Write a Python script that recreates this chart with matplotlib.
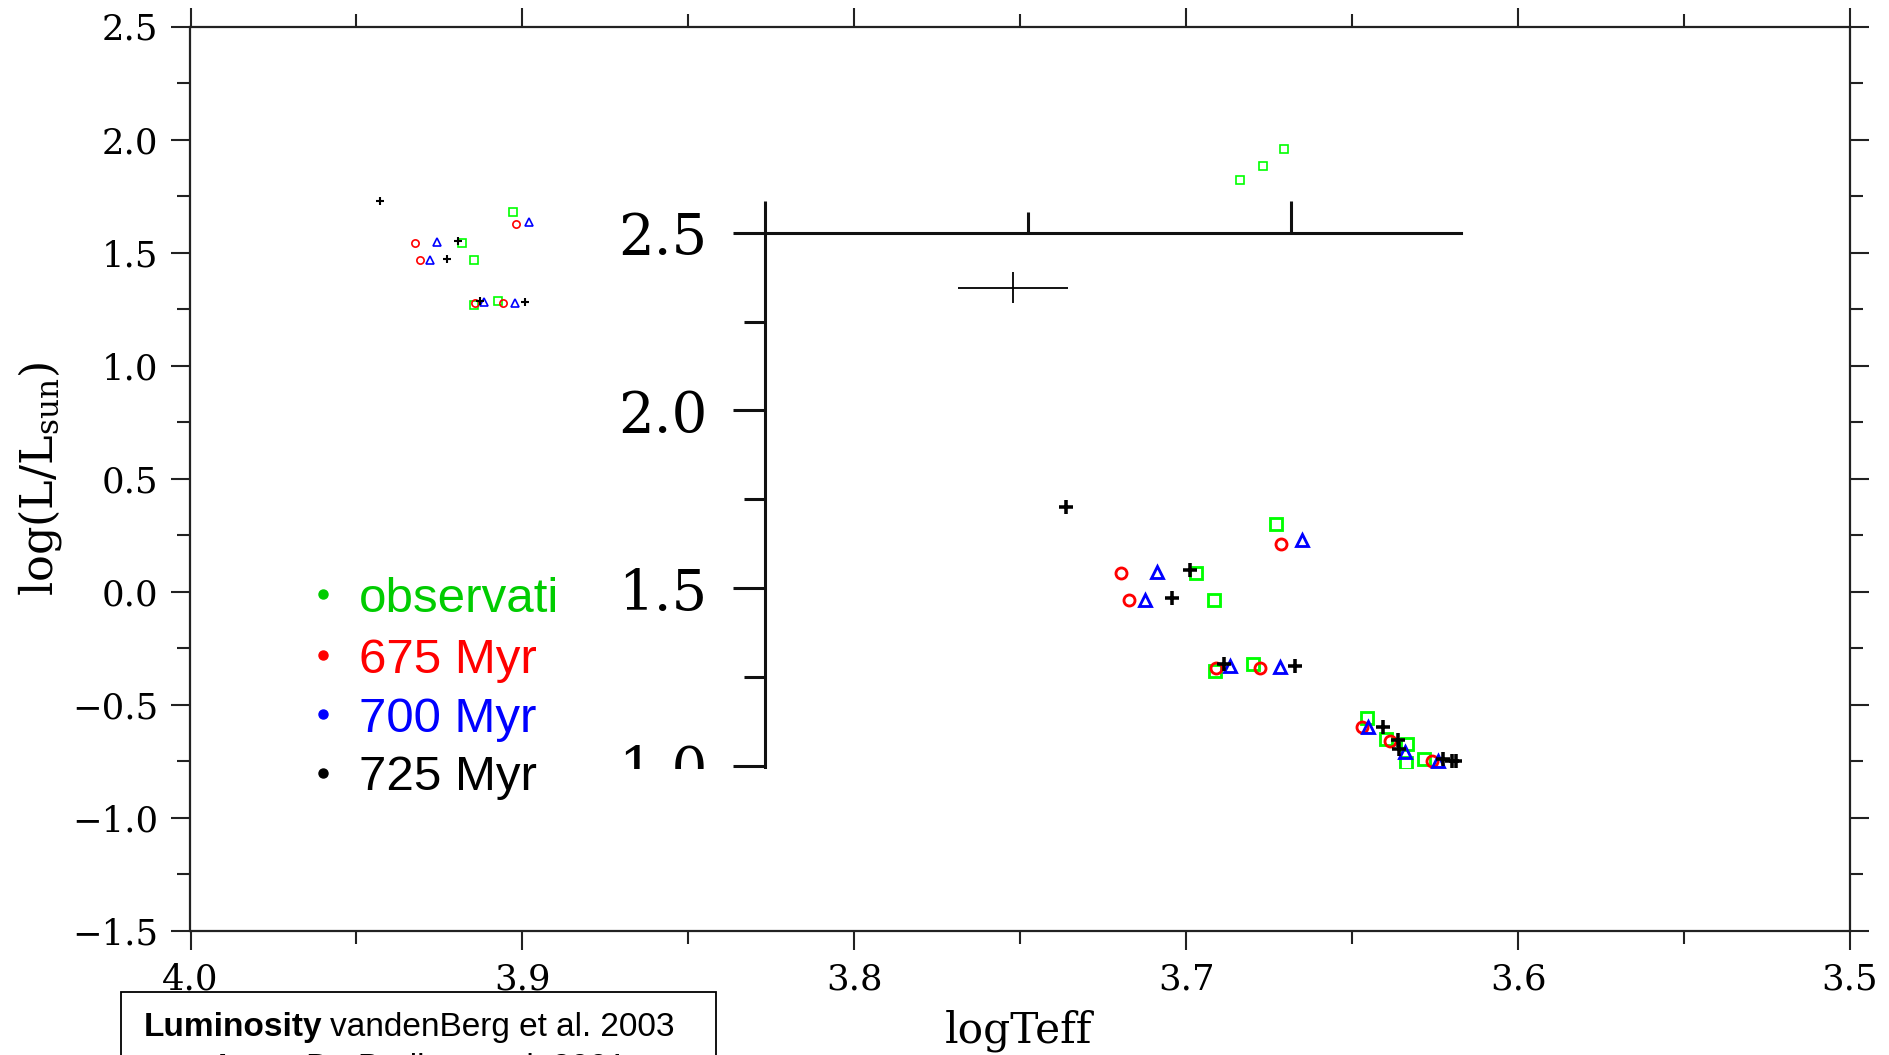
import matplotlib
matplotlib.use('Agg')
import matplotlib.pyplot as plt
from matplotlib.ticker import MultipleLocator, FuncFormatter
from matplotlib.patches import Rectangle
from matplotlib.lines import Line2D
from matplotlib import font_manager

# --- data (logTeff, log L/Lsun) ---
# upper cluster, shown in both the full diagram and the zoom
obs_teff = [3.9029, 3.9181, 3.9146, 3.9145, 3.9073]
obs_lum = [1.6805, 1.5434, 1.4668, 1.2677, 1.2867]
m675_teff = [3.9020, 3.9323, 3.9309, 3.9143, 3.9059]
m675_lum = [1.6248, 1.5434, 1.4668, 1.2752, 1.2752]
m700_teff = [3.8979, 3.9256, 3.9278, 3.9116, 3.9021]
m700_lum = [1.6363, 1.5465, 1.4668, 1.2810, 1.2779]
m725_teff = [3.9429, 3.9193, 3.9226, 3.9128, 3.8992]
m725_lum = [1.7279, 1.5509, 1.4726, 1.2867, 1.2810]

# giants, only visible in the full diagram
giant_teff = [3.6838, 3.6770, 3.6704]
giant_lum = [1.821, 1.884, 1.958]

# lower cluster, only visible in the zoom
low_obs_teff = [3.8856, 3.8819, 3.8780, 3.8782, 3.8748]
low_obs_lum = [1.134, 1.076, 1.063, 1.008, 1.019]
low_675_teff = [3.8865, 3.8812, 3.8732]
low_675_lum = [1.110, 1.069, 1.015]
low_700_teff = [3.8853, 3.8784, 3.8720]
low_700_lum = [1.110, 1.039, 1.015]
low_725_teff = [3.8826, 3.8796, 3.8794, 3.8711, 3.8695, 3.8686]
low_725_lum = [1.110, 1.073, 1.049, 1.019, 1.015, 1.015]

# typical error bar drawn in the zoom
err_teff, err_lum = 3.9529, 2.345
err_dteff, err_dlum = 0.0104, 0.043

legend_labels = ['observati', '675 Myr', '700 Myr', '725 Myr']
legend_colors = ['#00cc00', '#ff0000', '#0000ff', '#000000']

GREEN, RED, BLUE, BLACK = '#00ff00', '#ff0000', '#0000ff', '#000000'

W, H = 1890, 1055
plt.rcParams['font.family'] = 'DejaVu Serif'
plt.rcParams['mathtext.fontset'] = 'dejavuserif'


def fx(px):
    return px / W


def fy(py):
    return (H - py) / H


def fmt(v, pos):
    return f'{v:.1f}'.replace('-', '\u2212')


def draw_points(ax, series, scale):
    ms = 5.5 * scale
    for teff, lum, marker, color, size in series:
        if marker == '+':
            ax.plot(teff, lum, ls='none', marker='+', color=color,
                    ms=ms * 1.1, mew=1.5 * scale, clip_on=True)
        else:
            ax.plot(teff, lum, ls='none', marker=marker, mfc='none', mec=color,
                    ms=ms * size, mew=1.2 * scale, clip_on=True)


fig = plt.figure(figsize=(W / 100, H / 100), dpi=100)

# --- main HR diagram ---
ax = fig.add_axes([fx(190.5), fy(930.6), fx(1850 - 190.5), (930.6 - 26.5) / H])
ax.set_xlim(4.0, 3.5)
ax.set_ylim(-1.5, 2.5)
ax.xaxis.set_major_locator(MultipleLocator(0.1))
ax.xaxis.set_minor_locator(MultipleLocator(0.05))
ax.yaxis.set_major_locator(MultipleLocator(0.5))
ax.yaxis.set_minor_locator(MultipleLocator(0.25))
ax.xaxis.set_major_formatter(FuncFormatter(fmt))
ax.yaxis.set_major_formatter(FuncFormatter(fmt))
ax.tick_params(which='both', direction='out', top=True, right=True,
               width=1.5, labelsize=25.5, color='#222222')
ax.tick_params(which='major', length=14, pad=9)
ax.tick_params(which='minor', length=9.5)
for s in ax.spines.values():
    s.set_linewidth(1.6)
    s.set_color('#222222')

main_series = [
    (obs_teff + giant_teff, obs_lum + giant_lum, 's', GREEN, 1.0),
    (m675_teff, m675_lum, 'o', RED, 0.95),
    (m700_teff, m700_lum, '^', BLUE, 0.95),
    (m725_teff, m725_lum, '+', BLACK, 1.0),
]
draw_points(ax, main_series, 1.0)

fig.text(fx(1018.6), fy(1030.6), 'logTeff', fontsize=30.5, ha='center', va='center')
fig.text(fx(40), fy(478.5), r'log(L/L$_{\rm sun}$)', fontsize=32,
         ha='center', va='center', rotation=90)

# --- zoomed panel pasted over the diagram ---
axz = fig.add_axes([fx(765.4), fy(767.8), fx(1461 - 765.4), (767.8 - 232.6) / H])
axz.set_facecolor('white')
axz.set_xlim(4.0, 3.8677)
axz.set_ylim(0.995, 2.5)
axz.xaxis.set_major_locator(MultipleLocator(0.1))
axz.xaxis.set_minor_locator(MultipleLocator(0.05))
axz.yaxis.set_major_locator(MultipleLocator(0.5))
axz.yaxis.set_minor_locator(MultipleLocator(0.25))
axz.yaxis.set_major_formatter(FuncFormatter(fmt))
axz.tick_params(which='both', direction='out', top=True, bottom=False,
                right=False, labeltop=False, labelbottom=False,
                width=2.2, labelsize=40.5, color='#111111')
axz.tick_params(which='major', length=23, pad=19)
axz.tick_params(which='minor', length=15)
axz.spines['right'].set_visible(False)
axz.spines['bottom'].set_visible(False)
for side in ['left', 'top']:
    axz.spines[side].set_linewidth(2.2)
    axz.spines[side].set_color('#111111')

zoom_series = [
    (obs_teff + low_obs_teff, obs_lum + low_obs_lum, 's', GREEN, 1.0),
    (m675_teff + low_675_teff, m675_lum + low_675_lum, 'o', RED, 0.85),
    (m700_teff + low_700_teff, m700_lum + low_700_lum, '^', BLUE, 0.95),
    (m725_teff + low_725_teff, m725_lum + low_725_lum, '+', BLACK, 1.0),
]
draw_points(axz, zoom_series, 1.7)
axz.errorbar([err_teff], [err_lum], xerr=[err_dteff], yerr=[err_dlum],
             fmt='none', ecolor='black', elinewidth=1.3, capsize=0)

# the pasted image was cropped through the "1.0" label
fig.add_artist(Rectangle((fx(590), fy(800)), fx(772 - 590), (800 - 769) / H,
                         transform=fig.transFigure, facecolor='white',
                         edgecolor='none', zorder=10))

# --- hand-made legend ---
leg_dot_y = [594.3, 655.0, 714.0, 773.3]
leg_base_y = [612.3, 673.3, 731.7, 790.0]
for lab, col, dy, by in zip(legend_labels, legend_colors, leg_dot_y, leg_base_y):
    fig.add_artist(Line2D([fx(323)], [fy(dy)], marker='o', ms=6.5, color=col,
                          ls='none', transform=fig.transFigure))
    fig.text(fx(359), fy(by), lab, color=col, fontsize=35.5,
             family='Liberation Sans', va='baseline', ha='left')

# --- reference box at the bottom ---
names = {f.name for f in font_manager.fontManager.ttflist}
if 'Liberation Sans Narrow' in names:
    box_font, box_size = 'Liberation Sans Narrow', 28
else:
    box_font, box_size = 'Liberation Sans', 24

fig.add_artist(Rectangle((fx(120.5), -0.2), fx(716 - 120.5), fy(992) + 0.2,
                         transform=fig.transFigure, facecolor='white',
                         edgecolor='black', lw=1.3, zorder=5))

renderer = fig.canvas.get_renderer()
lines = [(143.3, 1036, 'Luminosity', ' vandenBerg et al. 2003'),
         (218, 1077, 'Lsun', ' De Bruijne et al. 2001')]
for x0, base, bold, rest in lines:
    t = fig.text(fx(x0), fy(base), bold, family=box_font, fontsize=box_size,
                 weight='bold', va='baseline', ha='left', zorder=6)
    bb = t.get_window_extent(renderer)
    gap = box_size * 100 / 72 * 0.25
    fig.text((bb.x1 + gap) / W, fy(base), rest.strip(), family=box_font,
             fontsize=box_size, va='baseline', ha='left', zorder=6)

fig.savefig('out.png', dpi=100, facecolor='white')
plt.close(fig)
